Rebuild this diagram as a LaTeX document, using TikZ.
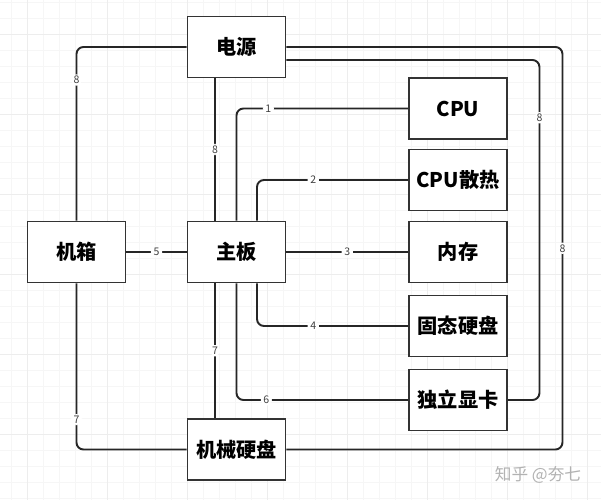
\documentclass[tikz,border=0pt]{standalone}
\usepackage{fontspec}
\setmainfont{Noto Sans CJK SC}
\definecolor{gridminor}{gray}{0.965}
\definecolor{gridmajor}{gray}{0.93}
\definecolor{markgray}{gray}{0.70}
\begin{document}
\begin{tikzpicture}
  [x=.02cm,y=-.02cm,
   box/.style={draw=black!80,line width=1.1pt,fill=white,minimum width=1.96cm,minimum height=1.22cm,inner sep=0pt,font=\fontsize{11.5}{13}\selectfont\bfseries},
   wire/.style={draw=black!85,line width=1.1pt,rounded corners=.14cm},
   num/.style={fill=white,inner xsep=1.5pt,inner ysep=1pt,font=\fontsize{6}{7}\selectfont,text=black!75}]
  \useasboundingbox (0,0) rectangle (601,500);
  \fill[white] (0,0) rectangle (601,500);
  \foreach \gx in {11.5,27.5,...,600}
    \draw[gridminor,line width=.4pt] (\gx,0) -- (\gx,500);
  \foreach \gy in {2,18,...,500}
    \draw[gridminor,line width=.4pt] (0,\gy) -- (601,\gy);
  \foreach \gx in {27.5,107.5,...,600}
    \draw[gridmajor,line width=.4pt] (\gx,0) -- (\gx,500);
  \foreach \gy in {34,114,...,500}
    \draw[gridmajor,line width=.4pt] (0,\gy) -- (601,\gy);
  \foreach \name/\txt/\px/\py in {power/电源/236.5/47,case/机箱/76.5/252,board/主板/236.5/252,hdd/机械硬盘/236.5/449.5,cpu/CPU/458/108.5,cooler/CPU散热/458/180,ram/内存/458/252,ssd/固态硬盘/458/326,gpu/独立显卡/458/400}
    \node[box] (\name) at (\px,\py) {\txt};
  \draw[wire] (power.west) -| node[num,pos=.595] (n1) {8} (case.north);
  \draw[wire] ([xshift=-.43cm]power.south) -- node[num,pos=.5] (n2) {8} ([xshift=-.43cm]board.north);
  \draw[wire] (board.north) |- node[num,pos=.593] (n3) {1} (cpu.west);
  \draw[wire] ([xshift=.41cm]board.north) |- node[num,pos=.686] (n4) {2} (cooler.west);
  \draw[wire] (board.east) -- node[num,pos=.5] (n5) {3} (ram.west);
  \draw[wire] ([xshift=.41cm]board.south) |- node[num,pos=.686] (n6) {4} (ssd.west);
  \draw[wire] (case.east) -- node[num,pos=.5] (n7) {5} (board.west);
  \draw[wire] (board.south) |- node[num,pos=.587] (n8) {6} (gpu.west);
  \draw[wire] ([xshift=-.43cm]board.south) -- node[num,pos=.5] (n9) {7} ([xshift=-.43cm]hdd.north);
  \draw[wire] (case.south) |- node[num,pos=.41] (n10) {7} (hdd.west);
  \draw[wire] (power.east) -- ++(276,0) |- node[num,pos=.25] (n11) {8} (hdd.east);
  \draw[wire] ([yshift=-.26cm]power.east) -- ++(253,0) |- node[num,pos=.085] (n12) {8} (gpu.east);
  \node[text=markgray,font=\fontsize{9.5}{11}\selectfont] (mark) at (538,475) {知乎 @夯七};
\end{tikzpicture}
\end{document}
